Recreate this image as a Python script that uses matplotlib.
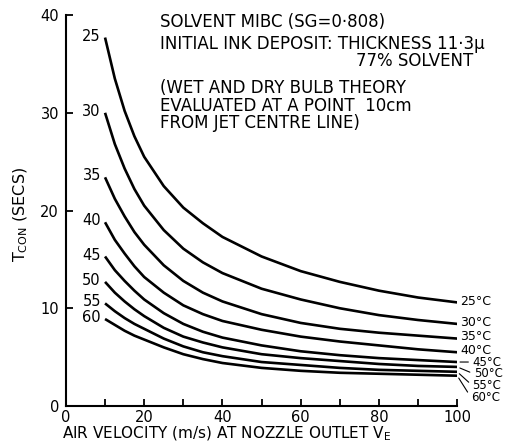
import matplotlib
matplotlib.use('Agg')
import matplotlib.pyplot as plt
from matplotlib.ticker import MultipleLocator

# air velocity (m/s) at nozzle outlet
velocity = [10, 12.5, 15, 17.5, 20, 25, 30, 35, 40, 50, 60, 70, 80, 90, 100]

# T_CON (secs) for each solvent temperature
temps = [25, 30, 35, 40, 45, 50, 55, 60]
t_25 = [37.7, 33.5, 30.2, 27.6, 25.5, 22.5, 20.3, 18.7, 17.3, 15.3, 13.8, 12.7, 11.8, 11.1, 10.6]
t_30 = [30.0, 26.8, 24.3, 22.2, 20.5, 18.0, 16.1, 14.7, 13.6, 12.0, 10.9, 10.0, 9.3, 8.8, 8.4]
t_35 = [23.4, 21.2, 19.4, 17.8, 16.5, 14.4, 12.8, 11.6, 10.7, 9.4, 8.5, 7.9, 7.5, 7.2, 6.9]
t_40 = [18.8, 17.0, 15.6, 14.3, 13.2, 11.6, 10.3, 9.4, 8.7, 7.8, 7.1, 6.6, 6.2, 5.8, 5.5]
t_45 = [15.3, 13.9, 12.8, 11.8, 10.9, 9.5, 8.4, 7.6, 7.0, 6.2, 5.6, 5.2, 4.9, 4.7, 4.5]
t_50 = [12.7, 11.6, 10.7, 9.9, 9.2, 8.0, 7.1, 6.5, 6.0, 5.3, 4.9, 4.6, 4.3, 4.1, 4.0]
t_55 = [10.5, 9.7, 9.0, 8.4, 7.9, 6.9, 6.1, 5.5, 5.1, 4.5, 4.2, 3.9, 3.7, 3.6, 3.5]
t_60 = [8.9, 8.3, 7.7, 7.2, 6.8, 6.0, 5.3, 4.8, 4.4, 3.9, 3.6, 3.4, 3.3, 3.2, 3.1]
series = [t_25, t_30, t_35, t_40, t_45, t_50, t_55, t_60]

# offsets (points) of the right-hand labels; the crowded ones get a leader
right_offsets = [(2, 0.7), (2, 0.7), (2, 1.4), (2, 1.4), (11, 0), (12, -5), (11, -10), (10, -15.8)]

notes = [
    (0.308, 0.950, 'SOLVENT MIBC (SG=0·808)'),
    (0.308, 0.901, 'INITIAL INK DEPOSIT: THICKNESS 11·3μ'),
    (0.686, 0.862, '77% SOLVENT'),
    (0.308, 0.801, '(WET AND DRY BULB THEORY'),
    (0.308, 0.761, 'EVALUATED AT A POINT  10cm'),
    (0.308, 0.722, 'FROM JET CENTRE LINE)'),
]

plt.rcParams['font.family'] = 'DejaVu Sans'

fig = plt.figure(figsize=(5.19, 4.43), dpi=100)
ax = fig.add_axes([0.127, 0.0835, 0.754, 0.8825])

for temp, ys, off in zip(temps, series, right_offsets):
    ax.plot(velocity, ys, color='black', lw=1.9, solid_capstyle='butt')
    ax.annotate(str(temp), xy=(velocity[0], ys[0]), xytext=(-3, 1),
                textcoords='offset points', ha='right', va='center', fontsize=10.5)
    if off[0] > 5:
        ax.annotate(f'{temp}°C', xy=(velocity[-1], ys[-1]), xytext=off,
                    textcoords='offset points', ha='left', va='center', fontsize=8.5,
                    arrowprops=dict(arrowstyle='-', lw=0.8, color='black',
                                    shrinkA=1, shrinkB=2, relpos=(0, 0.5)))
    else:
        ax.annotate(f'{temp}°C', xy=(velocity[-1], ys[-1]), xytext=off,
                    textcoords='offset points', ha='left', va='center', fontsize=9)

ax.set_xlim(0, 100)
ax.set_ylim(0, 40)
ax.spines['top'].set_visible(False)
ax.spines['right'].set_visible(False)
ax.spines['left'].set_linewidth(1.5)
ax.spines['bottom'].set_linewidth(1.5)
ax.xaxis.set_major_locator(MultipleLocator(20))
ax.xaxis.set_minor_locator(MultipleLocator(10))
ax.yaxis.set_major_locator(MultipleLocator(10))
ax.tick_params(axis='both', which='both', direction='in', length=5, width=1.3,
               labelsize=10.5, pad=3)
ax.tick_params(axis='y', which='major', pad=5)
ax.tick_params(axis='y', which='minor', length=0)
ax.set_facecolor('white')

for x, y, s in notes:
    fig.text(x, y, s, fontsize=12, ha='left', va='center')

fig.text(0.119, 0.021, r'AIR VELOCITY (m/s) AT NOZZLE OUTLET V$_{\mathrm{E}}$',
         fontsize=11, ha='left', va='center')
fig.text(0.04, 0.515, r'T$_{\mathrm{CON}}$ (SECS)', fontsize=11.5,
         rotation=90, ha='center', va='center')

fig.savefig('out.png', dpi=100, facecolor='white')
